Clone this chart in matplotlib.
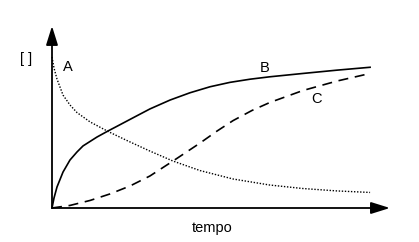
import matplotlib.pyplot as plt
from matplotlib.patches import FancyArrowPatch

plt.rcParams['font.family'] = ['Liberation Sans', 'DejaVu Sans']

# curva A (reagente, pontilhada)
t_a = [0, 0.0625, 0.156, 0.344, 0.5625, 0.781, 1.19, 1.75, 2.34, 3.06, 3.78, 4.625, 5.66, 6.81, 7.84, 8.91, 9.94]
c_a = [1.0, 0.927, 0.854, 0.748, 0.682, 0.632, 0.570, 0.507, 0.447, 0.377, 0.311, 0.248, 0.192, 0.152, 0.129, 0.113, 0.103]

# curva B (intermediario, continua)
t_b = [0, 0.0625, 0.156, 0.344, 0.5625, 0.781, 0.969, 1.406, 1.75, 2.03, 2.53, 3.06, 3.69, 4.31, 4.94, 5.56,
       6.19, 6.81, 7.84, 8.91, 9.94]
c_b = [0, 0.066, 0.139, 0.238, 0.318, 0.371, 0.411, 0.470, 0.510, 0.541, 0.597, 0.656, 0.715, 0.763, 0.803, 0.832,
       0.853, 0.869, 0.891, 0.913, 0.932]

# curva C (produto, tracejada)
t_c = [0, 0.5625, 1.19, 1.81, 2.44, 3.06, 3.78, 4.625, 5.16, 5.66, 6.25, 6.81, 7.84, 8.91, 9.94]
c_c = [0, 0.017, 0.050, 0.093, 0.146, 0.212, 0.311, 0.430, 0.510, 0.579, 0.646, 0.699, 0.778, 0.841, 0.891]

fig = plt.figure(figsize=(4.19, 2.42), dpi=100)
W, H = 419, 242
ax = fig.add_axes([52 / W, (H - 208) / H, 320 / W, 151 / H])
ax.set_xlim(0, 10)
ax.set_ylim(0, 1)
ax.axis('off')

ax.plot(t_a, c_a, color='black', lw=1.0, ls=(0, (1, 1.2)), clip_on=False)
ax.plot(t_b, c_b, color='black', lw=1.2, clip_on=False)
ax.plot(t_c, c_c, color='black', lw=1.2, ls=(0, (6, 4)), clip_on=False)

# eixos com setas
for tip in [(10.56, 0), (0, 1.205)]:
    arr = FancyArrowPatch((0, 0), tip, arrowstyle='-|>,head_length=11.5,head_width=3.6',
                          mutation_scale=1, lw=1.3, color='black', shrinkA=0, shrinkB=0,
                          clip_on=False, transform=ax.transData)
    ax.add_patch(arr)

fs = 10.5
ax.text(-0.81, 0.985, '[ ]', fontsize=fs, ha='center', va='center')
ax.text(0.48, 0.937, 'A', fontsize=fs, ha='center', va='center')
ax.text(6.66, 0.93, 'B', fontsize=fs, ha='center', va='center')
ax.text(8.25, 0.722, 'C', fontsize=fs, ha='center', va='center')
ax.text(5.0, -0.132, 'tempo', fontsize=fs, ha='center', va='center')

fig.savefig('out.png', dpi=100)
